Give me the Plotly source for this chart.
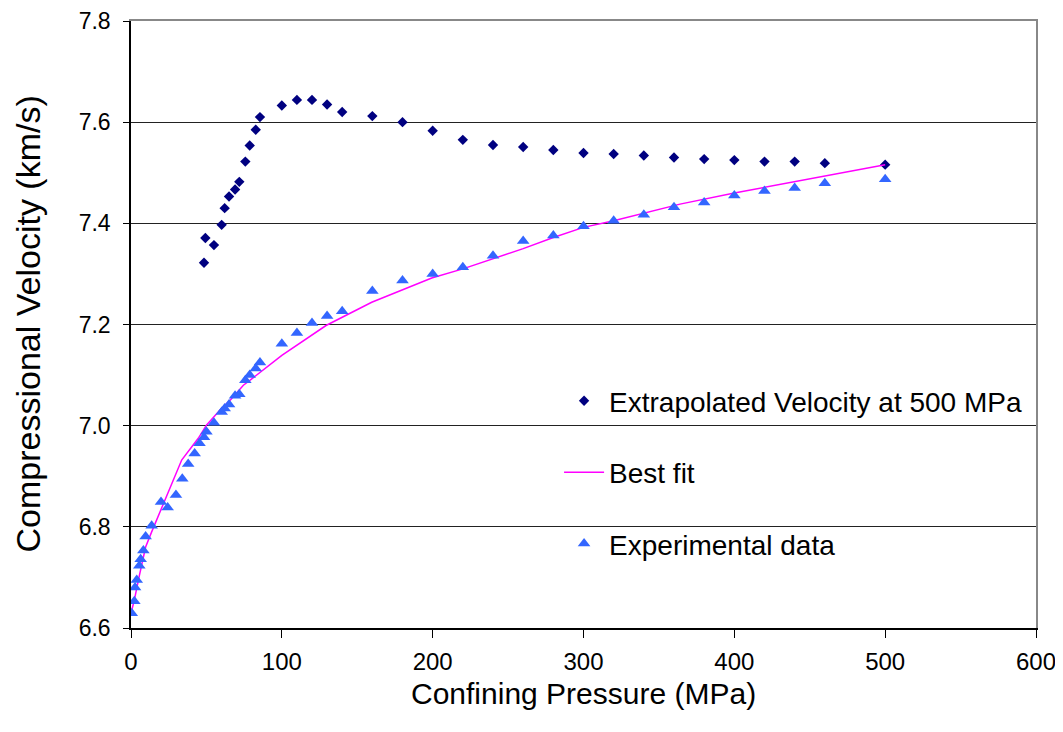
import plotly.graph_objects as go

# Extrapolated velocity at 500 MPa (diamonds)
extrap_p = [48.4, 49.3, 55, 60.1, 62.1, 65, 69, 71.8, 75.8, 78.7, 82.7, 85.5,
            100, 110, 120, 130, 140, 160, 180, 200, 220, 240, 260, 280, 300,
            320, 340, 360, 380, 400, 420, 440, 460, 500]
extrap_v = [7.322, 7.371, 7.357, 7.397, 7.430, 7.453, 7.467, 7.482, 7.522, 7.554, 7.585, 7.610,
            7.633, 7.644, 7.644, 7.635, 7.620, 7.612, 7.600, 7.583, 7.565, 7.555, 7.551, 7.545, 7.539,
            7.537, 7.534, 7.530, 7.527, 7.525, 7.522, 7.522, 7.519, 7.516]

# Experimental data (triangles)
exp_p = [0.5, 2.2, 2.7, 3.8, 5.5, 6.4, 8.2, 9.7, 13.7, 19.9, 24.3, 29.8, 34, 37.9, 42.2,
         45.4, 48.4, 50, 55, 60.1, 62.1, 65, 69, 71.8, 75.8, 78.7, 82.7, 85.5,
         100, 110, 120, 130, 140, 160, 180, 200, 220, 240, 260, 280, 300, 320, 340,
         360, 380, 400, 420, 440, 460, 500]
exp_v = [6.629, 6.653, 6.680, 6.695, 6.723, 6.736, 6.753, 6.781, 6.802, 6.849, 6.838, 6.863, 6.895, 6.924, 6.945,
         6.965, 6.977, 6.988, 7.006, 7.027, 7.034, 7.042, 7.059, 7.062, 7.090, 7.100, 7.113, 7.125,
         7.162, 7.183, 7.203, 7.217, 7.226, 7.266, 7.287, 7.300, 7.313, 7.336, 7.365, 7.376, 7.394, 7.405, 7.417,
         7.432, 7.441, 7.455, 7.464, 7.470, 7.479, 7.487]

# Best fit (line)
fit_p = [0.5, 2.2, 5.5, 9.7, 13.7, 19.9, 33.6, 44.6, 50, 59, 65.6, 74.5, 79, 100,
         129.3, 159.6, 199.4, 220, 240, 260, 280, 300, 320, 364, 400, 460, 500]
fit_v = [6.635, 6.655, 6.703, 6.760, 6.790, 6.834, 6.932, 6.975, 7.001, 7.031, 7.050, 7.080, 7.090, 7.139,
         7.198, 7.244, 7.292, 7.310, 7.330, 7.350, 7.372, 7.392, 7.405, 7.438, 7.460, 7.493, 7.516]

x_ticks = [0, 100, 200, 300, 400, 500, 600]
y_ticks = [6.6, 6.8, 7.0, 7.2, 7.4, 7.6, 7.8]
y_labels = ["6.6", "6.8", "7.0", "7.2", "7.4", "7.6", "7.8"]
x_range = [0, 600]
y_range = [6.6, 7.8]

FONT = "Liberation Sans, Arial, sans-serif"

fig = go.Figure()
fig.add_trace(go.Scatter(
    x=extrap_p, y=extrap_v, mode="markers", name="Extrapolated Velocity at 500 MPa",
    legendgroup="a",
    marker=dict(symbol="diamond", size=8, color="#000080")))
fig.add_trace(go.Scatter(
    x=fit_p, y=fit_v, mode="lines", name="Best fit", legendgroup="b",
    line=dict(color="#ff00ff", width=1.5)))
fig.add_trace(go.Scatter(
    x=exp_p, y=exp_v, mode="markers", name="Experimental data", legendgroup="c",
    marker=dict(symbol="triangle-up", size=11, color="#3366ff")))
# empty trace that activates the mirrored (gray) top/right frame axes
fig.add_trace(go.Scatter(x=[], y=[], xaxis="x2", yaxis="y2", showlegend=False,
                         hoverinfo="skip"))

fig.update_layout(
    width=1063, height=732,
    margin=dict(l=123, r=35, t=13, b=112, autoexpand=False),
    paper_bgcolor="white", plot_bgcolor="white",
    font=dict(family=FONT, color="black"),
    legend=dict(x=0.473, y=0.415, xanchor="left", yanchor="top",
                bgcolor="rgba(0,0,0,0)", borderwidth=0,
                font=dict(size=28, family=FONT),
                tracegroupgap=32, traceorder="grouped",
                itemwidth=40),
    shapes=[
        # white legend backing that interrupts the gridlines
        dict(type="rect", xref="paper", yref="paper", x0=0.461, x1=0.998, y0=0.09, y1=0.425,
             fillcolor="white", line=dict(width=0), layer="between"),
    ],
    annotations=[
        dict(text="Confining Pressure (MPa)", xref="paper", yref="paper", x=0.5, y=0,
             xanchor="center", yanchor="middle", yshift=-65, showarrow=False,
             font=dict(size=30, family=FONT, color="black")),
        dict(text="Compressional Velocity (km/s)", xref="paper", yref="paper", x=0, y=0.5,
             xanchor="center", yanchor="middle", xshift=-104, textangle=-90, showarrow=False,
             font=dict(size=34, family=FONT, color="black")),
    ],
    xaxis2=dict(overlaying="x", side="top", anchor="y", range=x_range,
                showline=True, linecolor="#888888", linewidth=2, ticks="",
                showticklabels=False, showgrid=False, zeroline=False, automargin=False),
    yaxis2=dict(overlaying="y", side="right", anchor="x", range=y_range,
                showline=True, linecolor="#888888", linewidth=2, ticks="",
                showticklabels=False, showgrid=False, zeroline=False, automargin=False),
)
fig.layout.xaxis.update(
    range=x_range, tickvals=x_ticks, showgrid=False, zeroline=False, automargin=False,
    showline=True, linecolor="black", linewidth=1.5,
    ticks="outside", ticklen=8, tickcolor="black", ticklabelstandoff=3,
    ticklabeloverflow="allow",
    tickfont=dict(size=24, family=FONT))
fig.layout.yaxis.update(
    range=y_range, tickvals=y_ticks, ticktext=y_labels, automargin=False,
    showgrid=True, gridcolor="#222222", gridwidth=1, zeroline=False,
    showline=True, linecolor="black", linewidth=1.5,
    ticks="outside", ticklen=6, tickcolor="black", ticklabelstandoff=8,
    ticklabeloverflow="allow",
    tickfont=dict(size=23, family=FONT))

fig.write_html("out.html")
